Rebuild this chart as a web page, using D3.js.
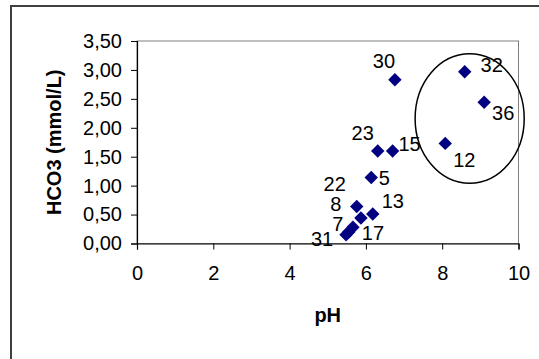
<!DOCTYPE html>
<html>
<head>
<meta charset="utf-8">
<script src="https://cdn.jsdelivr.net/npm/d3@7"></script>
<style>
  body { margin: 0; background: #fff; }
  svg { display: block; font-family: "Liberation Sans", Arial, sans-serif; }
</style>
</head>
<body>
<div id="chart"></div>
<script>
// sample numbers, pH and HCO3
const sampleIds = ["30", "32", "36", "12", "23", "15", "5", "22", "8", "13", "17", "7", "31"];
const phValues = [6.76, 8.59, 9.10, 8.08, 6.31, 6.70, 6.14, 5.55, 5.76, 6.18, 5.87, 5.66, 5.48];
const hco3Values = [2.83, 2.97, 2.44, 1.73, 1.60, 1.60, 1.14, 0.20, 0.64, 0.51, 0.44, 0.28, 0.15];

const xTicks = [0, 2, 4, 6, 8, 10];
const yTicks = [0, 0.5, 1, 1.5, 2, 2.5, 3, 3.5];

// where each label sits relative to its point (px)
const labelDx = [-11, 27, 19, 19, -15, 17, 13, -14, -21, 20, 12, -15, -24];
const labelDy = [-19, -7, 11, 17, -18, -7, 0, -48, -2, -13, 15, -3, 4];

// hand-drawn ellipse around the high pH group (data units)
const groupCenter = [8.72, 2.16];
const groupRadius = [1.43, 1.12];

const width = 539;
const height = 359;
const fontSize = "20px";

const svg = d3.select("#chart").append("svg")
  .attr("width", width)
  .attr("height", height);

// outer chart frame, runs off the right and bottom edge
svg.append("rect")
  .attr("x", 11).attr("y", 6)
  .attr("width", 600).attr("height", 400)
  .attr("fill", "none")
  .attr("stroke", "#404040")
  .attr("stroke-width", 2);

const x = d3.scaleLinear().domain([0, 10]).range([137, 518.5]);
const y = d3.scaleLinear().domain([0, 3.5]).range([243.5, 41]);

// plot area border
svg.append("rect")
  .attr("x", x(0)).attr("y", y(3.5))
  .attr("width", x(10) - x(0)).attr("height", y(0) - y(3.5))
  .attr("fill", "none")
  .attr("stroke", "#808080")
  .attr("stroke-width", 1);

const fmt = (d) => d.toFixed(2).replace(".", ",");

const yAxis = svg.append("g")
  .attr("transform", `translate(${x(0)},0)`)
  .call(d3.axisLeft(y).tickValues(yTicks).tickFormat(fmt).tickSize(6).tickPadding(9));

const xAxis = svg.append("g")
  .attr("transform", `translate(0,${y(0)})`)
  .call(d3.axisBottom(x).tickValues(xTicks).tickFormat(d3.format("d")).tickSize(6).tickPadding(16));

[xAxis, yAxis].forEach((g) => {
  g.select(".domain").attr("stroke", "#000").attr("stroke-width", 1.2);
  g.selectAll(".tick line").attr("stroke", "#000");
  g.selectAll(".tick text")
    .attr("fill", "#000")
    .style("font-family", '"Liberation Sans", Arial, sans-serif')
    .style("font-size", fontSize);
});

// axis titles
svg.append("text")
  .attr("x", (x(0) + x(10)) / 2)
  .attr("y", 322)
  .attr("text-anchor", "middle")
  .style("font-size", fontSize)
  .style("font-weight", "bold")
  .text("pH");

svg.append("text")
  .attr("transform", `translate(61,${(y(0) + y(3.5)) / 2}) rotate(-90)`)
  .attr("text-anchor", "middle")
  .style("font-size", fontSize)
  .style("font-weight", "bold")
  .text("HCO3 (mmol/L)");

// the ellipse
svg.append("ellipse")
  .attr("cx", x(groupCenter[0]))
  .attr("cy", y(groupCenter[1]))
  .attr("rx", x(groupCenter[0] + groupRadius[0]) - x(groupCenter[0]))
  .attr("ry", y(groupCenter[1] - groupRadius[1]) - y(groupCenter[1]))
  .attr("fill", "none")
  .attr("stroke", "#000")
  .attr("stroke-width", 1.5);

const data = sampleIds.map((id, i) => ({
  id: id,
  ph: phValues[i],
  hco3: hco3Values[i],
  dx: labelDx[i],
  dy: labelDy[i],
}));

// diamonds
svg.append("g").selectAll("path")
  .data(data)
  .enter()
  .append("path")
  .attr("transform", (d) => `translate(${x(d.ph)},${y(d.hco3)})`)
  .attr("d", d3.symbol(d3.symbolDiamond2, 115))
  .attr("fill", "#000080");

// labels
svg.append("g").selectAll("text")
  .data(data)
  .enter()
  .append("text")
  .attr("x", (d) => x(d.ph) + d.dx)
  .attr("y", (d) => y(d.hco3) + d.dy)
  .attr("dy", "0.35em")
  .attr("text-anchor", "middle")
  .style("font-size", fontSize)
  .attr("fill", "#000")
  .text((d) => d.id);
</script>
</body>
</html>
